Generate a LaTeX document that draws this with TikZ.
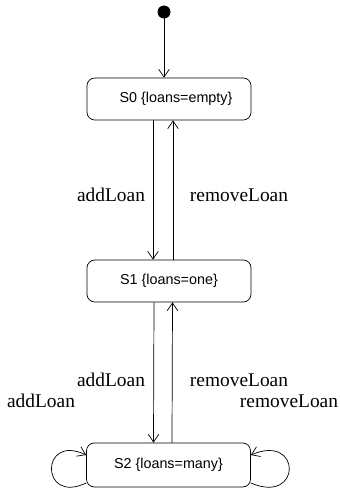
\documentclass[tikz,border=0pt]{standalone}
\usepackage{fontspec}
\setmainfont{Liberation Serif}
\setsansfont{Liberation Sans}
\usetikzlibrary{arrows.meta,calc}

\begin{document}
\begin{tikzpicture}[x=0.025cm, y=0.025cm,
    state/.style={draw, rounded corners=5.5pt, minimum width=164*0.025cm,
      minimum height=42*0.025cm, font=\sffamily\fontsize{10.2}{12}\selectfont},
    trans/.style={font=\fontsize{13.8}{16}\selectfont},
    every path/.style={line width=0.5pt},
    >={Straight Barb[length=5.5pt,width=7.5pt]}]
  \useasboundingbox (0,0) rectangle (340,489);

  % initial state
  \fill (164,477) circle (6.5) coordinate (init);
  \node[state] (S0) at (169,390) {\hspace{10pt}S0 \{loans=empty\}};
  \node[state] (S1) at (169,208) {S1 \{loans=one\}};
  \node[state, minimum height=44*0.025cm] (S2) at (168.5,24) {S2 \{loans=many\}};

  \draw[->] (init) -- (S0.north -| init);

  % S0 <-> S1
  \draw[->] ($(S0.south)+(-16,0)$) -- ($(S1.north)+(-16,0)$);
  \draw[->] ($(S1.north)+(4,0)$) -- ($(S0.south)+(4,0)$);
  \node[trans] (add1) at (111,294) {addLoan};
  \node[trans] (rem1) at (239,294) {removeLoan};

  % S1 <-> S2
  \draw[->] ($(S1.south)+(-15,0)$) -- ($(S2.north)+(-15,0)$);
  \draw[->] ($(S2.north)+(3.5,0)$) -- ($(S1.south)+(3.5,0)$);
  \node[trans] (add2) at (111,109) {addLoan};
  \node[trans] (rem2) at (239,109) {removeLoan};

  % self loops on S2
  \draw[->] ($(S2.west)+(0,-18)$) .. controls (40,-16) and (40,56) .. ($(S2.west)+(0,10)$);
  \draw[->] ($(S2.east)+(0,-18)$) .. controls (302,-16) and (302,56) .. ($(S2.east)+(0,10)$);
  \node[trans] (add3) at (41,88) {addLoan};
  \node[trans] (rem3) at (289,88) {removeLoan};
\end{tikzpicture}
\end{document}
